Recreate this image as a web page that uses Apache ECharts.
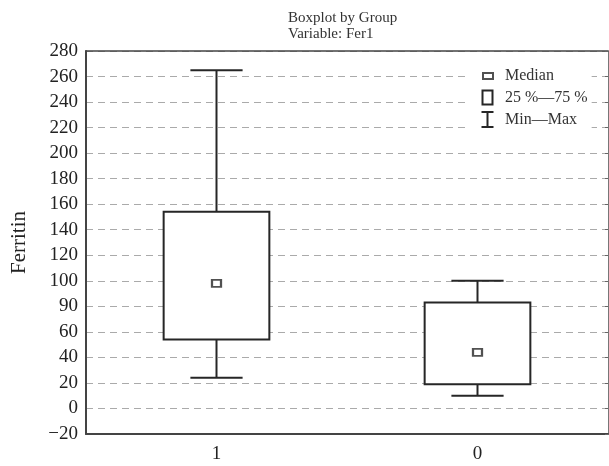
<!DOCTYPE html>
<html>
<head>
<meta charset="utf-8">
<script src="https://cdn.jsdelivr.net/npm/echarts@6/dist/echarts.min.js"></script>
<style>
  html, body { margin: 0; padding: 0; background: #fff; }
  #chart { width: 609px; height: 466px; }
</style>
</head>
<body>
<div id="chart"></div>
<script>
// groups and five-number summaries
const groups = ['1', '0'];
const minVals = [24, 10];
const q1Vals = [54, 19];
const medianVals = [98, 44];
const q3Vals = [154, 83];
const maxVals = [265, 100];
// the scan prints "90" at the 80 gridline, kept as printed
const yTickLabels = { '-20': '\u221220', '80': '90' };

const FONT = 'Liberation Serif';
const INK = '#262626';

const chart = echarts.init(document.getElementById('chart'), null, { renderer: 'canvas' });

const boxData = groups.map((g, i) => [i, q1Vals[i], q3Vals[i]]);
const whiskerData = groups.map((g, i) => [i, minVals[i], q1Vals[i], q3Vals[i], maxVals[i]]);
const medianData = groups.map((g, i) => [i, medianVals[i]]);

const outline = { color: 'rgba(0,0,0,0)', borderColor: INK, borderWidth: 2 };

const option = {
  animation: false,
  backgroundColor: '#fff',
  textStyle: { fontFamily: FONT },
  title: {
    text: 'Boxplot by Group\nVariable: Fer1',
    left: 283, top: 5,
    textStyle: { fontFamily: FONT, fontSize: 15, lineHeight: 16, fontWeight: 'normal', color: '#333' }
  },
  legend: {
    orient: 'vertical',
    left: 469, top: 61,
    padding: [5, 4, 10, 11],
    backgroundColor: '#fff',
    itemWidth: 19, itemHeight: 17, itemGap: 3,
    textStyle: { fontFamily: FONT, fontSize: 16, color: '#333' },
    // icons padded with bare move-tos so every item keeps the same box
    data: [
      { name: 'Median', icon: 'path://M0,0 M19,17 M2,6 L12,6 L12,12 L2,12 Z', itemStyle: outline },
      { name: '25 %\u201475 %', icon: 'path://M0,0 M19,17 M1.5,1.5 L11.5,1.5 L11.5,15.5 L1.5,15.5 Z', itemStyle: outline },
      { name: 'Min\u2014Max', icon: 'path://M0,0 M19,17 M0.5,1 L12.5,1 M6.5,1 L6.5,16 M0.5,16 L12.5,16', itemStyle: outline }
    ]
  },
  grid: { left: 86, right: 1, top: 51, bottom: 32, outerBoundsMode: 'none' },
  xAxis: [
    {
      type: 'category', data: groups, position: 'bottom',
      axisLine: { onZero: false, lineStyle: { color: '#444', width: 2 } },
      axisTick: { inside: true, length: 3, alignWithLabel: true, lineStyle: { color: '#444' } },
      axisLabel: { fontFamily: FONT, fontSize: 19, color: '#222', margin: 11 }
    },
    {
      type: 'category', data: groups, position: 'top',
      axisLine: { onZero: false, lineStyle: { color: '#444', width: 1.5 } },
      axisTick: { inside: true, length: 3, alignWithLabel: true, lineStyle: { color: '#444' } },
      axisLabel: { show: false }
    }
  ],
  yAxis: [
    {
      type: 'value', min: -20, max: 280, interval: 20,
      name: 'Ferritin', nameLocation: 'middle', nameGap: 56,
      nameTextStyle: { fontFamily: FONT, fontSize: 21, color: '#222' },
      axisLine: { show: true, onZero: false, lineStyle: { color: '#444', width: 2 } },
      axisTick: { show: false },
      axisLabel: {
        fontFamily: FONT, fontSize: 19, color: '#222', margin: 8,
        formatter: v => yTickLabels[String(v)] || String(v)
      },
      splitLine: { lineStyle: { color: '#aaa', width: 1, type: [7, 5] } }
    },
    {
      type: 'value', min: -20, max: 280, interval: 20, position: 'right',
      axisLine: { show: true, onZero: false, lineStyle: { color: '#777', width: 1 } },
      axisTick: { show: true, inside: true, length: 3, lineStyle: { color: '#666' } },
      axisLabel: { show: false },
      splitLine: { show: false }
    }
  ],
  series: [
    {
      name: 'Min\u2014Max', type: 'custom',
      itemStyle: { color: INK },
      encode: { x: 0, y: [1, 2, 3, 4] },
      data: whiskerData,
      renderItem: (params, api) => {
        const x = api.value(0);
        const band = api.size([1, 0])[0];
        const half = band * 0.1;
        const pMin = api.coord([x, api.value(1)]);
        const pQ1 = api.coord([x, api.value(2)]);
        const pQ3 = api.coord([x, api.value(3)]);
        const pMax = api.coord([x, api.value(4)]);
        const st = { stroke: INK, lineWidth: 2 };
        return {
          type: 'group',
          children: [
            { type: 'line', shape: { x1: pMax[0], y1: pMax[1], x2: pQ3[0], y2: pQ3[1] }, style: st },
            { type: 'line', shape: { x1: pMax[0] - half, y1: pMax[1], x2: pMax[0] + half, y2: pMax[1] }, style: st },
            { type: 'line', shape: { x1: pQ1[0], y1: pQ1[1], x2: pMin[0], y2: pMin[1] }, style: st },
            { type: 'line', shape: { x1: pMin[0] - half, y1: pMin[1], x2: pMin[0] + half, y2: pMin[1] }, style: st }
          ]
        };
      }
    },
    {
      name: '25 %\u201475 %', type: 'custom',
      itemStyle: { color: INK },
      encode: { x: 0, y: [1, 2] },
      data: boxData,
      renderItem: (params, api) => {
        const x = api.value(0);
        const band = api.size([1, 0])[0];
        const w = band * 0.405;
        const pLo = api.coord([x, api.value(1)]);
        const pHi = api.coord([x, api.value(2)]);
        return {
          type: 'rect',
          shape: { x: pLo[0] - w / 2, y: pHi[1], width: w, height: pLo[1] - pHi[1] },
          style: { fill: '#fff', stroke: INK, lineWidth: 2 }
        };
      }
    },
    {
      name: 'Median', type: 'scatter',
      symbol: 'rect', symbolSize: [9, 7],
      itemStyle: { color: '#fff', borderColor: INK, borderWidth: 2 },
      data: medianData,
      z: 5
    }
  ]
};

chart.setOption(option);
</script>
</body>
</html>
